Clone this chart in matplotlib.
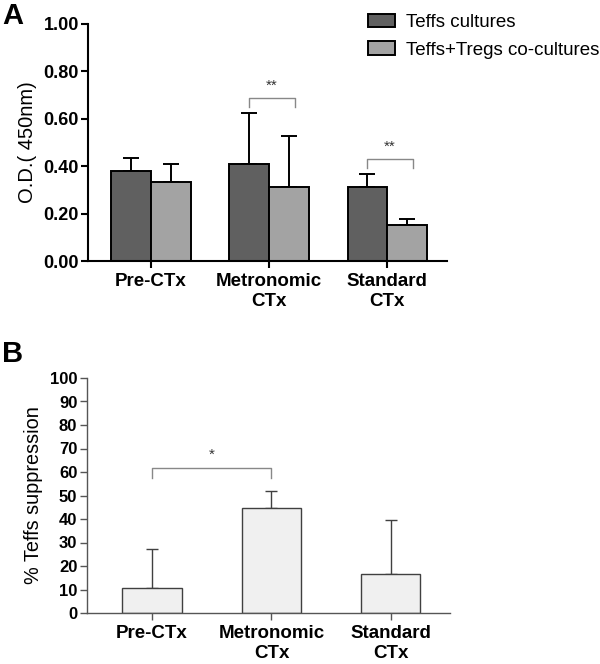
import matplotlib
matplotlib.use('Agg')
import matplotlib.pyplot as plt
import numpy as np

plt.rcParams['font.family'] = ['Liberation Sans', 'DejaVu Sans']

# Panel A: O.D. values
CATEGORIES = ['Pre-CTx', 'Metronomic\nCTx', 'Standard\nCTx']
TEFFS = [0.38, 0.41, 0.312]
TEFFS_ERR = [0.055, 0.215, 0.055]
COCULT = [0.333, 0.312, 0.152]
COCULT_ERR = [0.075, 0.215, 0.025]
SERIES_NAMES = ['Teffs cultures', 'Teffs+Tregs co-cultures']

# Panel B: % suppression
SUPPRESSION = [10.5, 44.5, 16.8]
SUPPRESSION_ERR = [16.8, 7.4, 22.8]

W, H = 600, 664
fig = plt.figure(figsize=(W / 100, H / 100), dpi=100)


def box(l, r, b, t):
    return [l / W, 1 - b / H, (r - l) / W, (b - t) / H]


def bracket(ax, x0, x1, y, leg, text, color, fs):
    ax.plot([x0, x0, x1, x1], [y - leg, y, y, y - leg], color=color, lw=1.0,
            clip_on=False)
    ax.text((x0 + x1) / 2, y + leg * 0.6, text, ha='center', va='bottom',
            fontsize=fs, color='#333333')


# ---------- Panel A ----------
axA = fig.add_axes(box(88, 447, 261, 24))
x = np.arange(len(CATEGORIES))
bw = 0.335
axA.bar(x - bw / 2, TEFFS, bw, color='#606060', edgecolor='black', lw=1.4,
        label=SERIES_NAMES[0], zorder=2)
axA.bar(x + bw / 2, COCULT, bw, color='#a3a3a3', edgecolor='black', lw=1.4,
        label=SERIES_NAMES[1], zorder=2)
axA.errorbar(x - bw / 2, TEFFS, yerr=[np.zeros(3), TEFFS_ERR], fmt='none',
             ecolor='black', elinewidth=1.4, capsize=5.5, capthick=1.4, zorder=1)
axA.errorbar(x + bw / 2, COCULT, yerr=[np.zeros(3), COCULT_ERR], fmt='none',
             ecolor='black', elinewidth=1.4, capsize=5.5, capthick=1.4, zorder=1)

axA.set_xlim(-0.534, 2.508)
axA.set_ylim(0, 1.0)
axA.set_yticks(np.arange(0, 1.01, 0.2))
axA.set_yticklabels([f'{v:.2f}' for v in np.arange(0, 1.01, 0.2)],
                    fontsize=13, fontweight='bold')
axA.set_xticks(x)
axA.set_xticklabels(CATEGORIES, fontsize=13.5, fontweight='bold',
                    linespacing=1.2)
axA.tick_params(axis='y', length=5, width=1.5, pad=1.5)
axA.tick_params(axis='x', length=5, width=1.5, pad=4)
for s in ['top', 'right']:
    axA.spines[s].set_visible(False)
for s in ['left', 'bottom']:
    axA.spines[s].set_linewidth(1.5)
axA.set_ylabel('O.D.( 450nm)', fontsize=14.5, labelpad=5)

bracket(axA, 1 - bw / 2, 1 + bw / 2 + 0.05, 0.688, 0.038, '**', '#888888', 11)
bracket(axA, 2 - bw / 2, 2 + bw / 2 + 0.05, 0.43, 0.038, '**', '#888888', 11)

axA.legend(loc='upper left', bbox_to_anchor=(368 / W, 1 - 14 / H),
           bbox_transform=fig.transFigure, frameon=False, borderaxespad=0,
           borderpad=0, fontsize=13.5, handlelength=1.45, handleheight=0.7,
           handletextpad=0.55, labelspacing=0.55)

fig.text(2 / W, 1 - 2 / H, 'A', fontsize=21, fontweight='bold', va='top')

# ---------- Panel B ----------
axB = fig.add_axes(box(87, 450, 613, 378))
axB.bar(x, SUPPRESSION, 0.494, color='#f0f0f0', edgecolor='#404040', lw=1.0,
        zorder=2)
axB.errorbar(x, SUPPRESSION, yerr=[np.zeros(3), SUPPRESSION_ERR], fmt='none',
             ecolor='#404040', elinewidth=1.0, capsize=4.5, capthick=1.0, zorder=1)
axB.set_xlim(-0.544, 2.494)
axB.set_ylim(0, 100)
axB.set_yticks(np.arange(0, 101, 10))
axB.set_yticklabels([str(v) for v in range(0, 101, 10)], fontsize=12,
                    fontweight='bold')
axB.set_xticks(x)
axB.set_xticklabels(CATEGORIES, fontsize=13.5, fontweight='bold',
                    linespacing=1.2)
axB.tick_params(axis='y', length=5, width=1.0, color='#555555', pad=2)
axB.tick_params(axis='x', length=5, width=1.0, color='#555555', pad=4)
for s in ['top', 'right']:
    axB.spines[s].set_visible(False)
for s in ['left', 'bottom']:
    axB.spines[s].set_linewidth(1.0)
    axB.spines[s].set_color('#555555')
axB.set_ylabel('% Teffs suppression', fontsize=14.3, labelpad=5)

bracket(axB, 0, 1, 61.7, 4.2, '*', '#888888', 11)

fig.text(2 / W, 1 - 340 / H, 'B', fontsize=21, fontweight='bold', va='top')

fig.savefig('out.png', dpi=100)
